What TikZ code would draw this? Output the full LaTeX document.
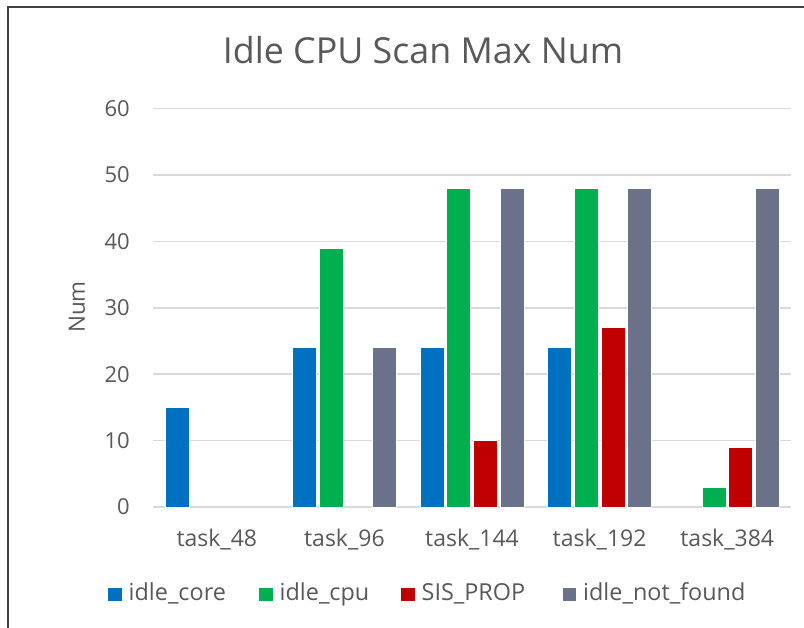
\documentclass[tikz,border=0pt]{standalone}
\usepackage{fontspec}
\setmainfont{Open Sans}
\definecolor{axisgray}{HTML}{595959}
\definecolor{gridgray}{HTML}{D9D9D9}
\definecolor{framegray}{HTML}{3F3F3F}
\definecolor{corecol}{HTML}{0070C0}
\definecolor{cpucol}{HTML}{00B050}
\definecolor{propcol}{HTML}{C00000}
\definecolor{nfcol}{HTML}{6B7189}
\begin{document}
\begin{tikzpicture}[x=1pt,y=-1pt,
  txt/.style={text=axisgray, inner sep=0pt},
  gridline/.style={draw=gridgray, line width=1.5pt},
  barbox/.style={draw=white, line width=0.6pt},
  keybox/.style={minimum size=13.5pt, inner sep=0pt},
]
\useasboundingbox (0,0) rectangle (804,628);
\fill[white] (0,0) rectangle (804,628);
% chart frame (left and top edges)
\draw[framegray, line width=1.5pt] (8,628) -- (8,7) -- (804,7);

% title
\node[txt, font=\fontsize{35.8}{40}\selectfont, anchor=base] (title) at (423,63.3) {Idle CPU Scan Max Num};

% value axis: gridlines and tick labels
\foreach \v in {0,...,6}{
  \pgfmathsetmacro{\yy}{507-66.4*\v}
  \draw[gridline] (153,\yy) -- (791,\yy);
  \node[txt, font=\fontsize{22}{26}\selectfont, anchor=east] (ytick\v) at (130,\yy) {\the\numexpr\v*10\relax};
}
\node[txt, font=\fontsize{22.5}{26}\selectfont, rotate=90] (ytitle) at (77,307) {Num};

% bars: idle_core / idle_cpu / SIS_PROP / idle_not_found
\foreach \c/\name/\a/\b/\r/\g in {0/task\_48/15/0/0/0, 1/task\_96/24/39/0/24, 2/task\_144/24/48/10/48, 3/task\_192/24/48/27/48, 4/task\_384/0/3/9/48}{
  \pgfmathsetmacro{\cx}{216.8+127.6*\c}
  \foreach \val/\off/\col in {\a/-39.9/corecol, \b/-13.3/cpucol, \r/13.3/propcol, \g/39.9/nfcol}{
    \ifnum\val>0
      \filldraw[barbox, fill=\col] (\cx+\off-12,507) rectangle (\cx+\off+12,507-6.64*\val);
    \fi
  }
  \node[txt, font=\fontsize{23}{26}\selectfont, anchor=base] (cat\c) at (\cx,546) {\name};
}

% legend
\foreach \i/\kx/\col/\lab in {1/108/corecol/idle\_core, 2/259/cpucol/idle\_cpu, 3/401/propcol/SIS\_PROP, 4/562.5/nfcol/idle\_not\_found}{
  \node[keybox, fill=\col, anchor=north west] (key\i) at (\kx,587.3) {};
  \node[txt, font=\fontsize{23.4}{27}\selectfont, anchor=base west] (lab\i) at (\kx+20.5,600.7) {\lab};
}
\end{tikzpicture}
\end{document}
